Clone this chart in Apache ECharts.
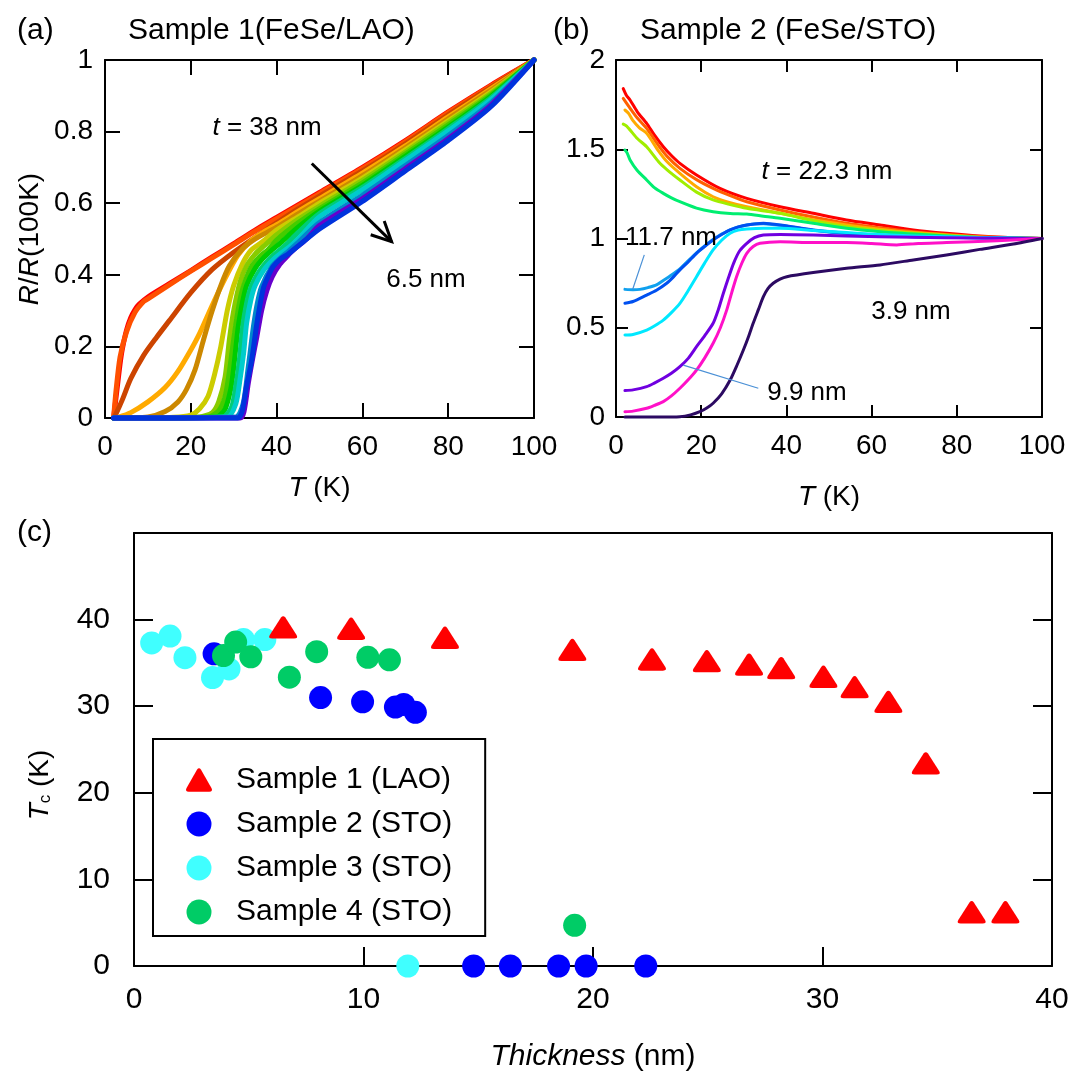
<!DOCTYPE html>
<html>
<head>
<meta charset="utf-8">
<script src="https://cdn.jsdelivr.net/npm/echarts/dist/echarts.min.js"></script>
<style>
  html, body { margin: 0; padding: 0; background: #fff; }
  #chart { width: 1072px; height: 1081px; }
</style>
</head>
<body>
<div id="chart"></div>
<script>
var FONT = "'Liberation Sans', Arial, Helvetica, sans-serif";

// ---- (a) Sample 1 (FeSe/LAO): R/R(100K) vs T, t = 38 nm ... 6.5 nm
var a1  = [[2,0],[2.5,0.05],[3,0.1],[3.5,0.15],[4,0.19],[5,0.245],[6,0.28],[7,0.303],[8,0.318],[10,0.338],[15,0.375],[20,0.412],[25,0.45],[30,0.487],[35,0.525],[40,0.56],[45,0.595],[50,0.63],[60,0.70],[70,0.775],[80,0.855],[90,0.93],[100,1]];
var a2  = [[2,0],[2.6,0.08],[3.5,0.17],[5,0.24],[7,0.295],[9,0.325],[10,0.333],[15,0.372],[20,0.41],[25,0.447],[30,0.484],[35,0.522],[40,0.557],[45,0.592],[50,0.627],[60,0.697],[70,0.772],[80,0.853],[90,0.928],[100,1]];
var a3  = [[2,0],[2.5,0.01],[4,0.05],[6,0.11],[9,0.175],[12,0.225],[15,0.272],[20,0.35],[25,0.415],[30,0.463],[35,0.505],[40,0.545],[45,0.584],[50,0.62],[60,0.69],[70,0.766],[80,0.847],[90,0.924],[100,1]];
var a4  = [[2,0],[3,0.002],[6,0.015],[10,0.045],[14,0.085],[17,0.13],[20,0.19],[22,0.235],[25,0.315],[28,0.39],[31,0.455],[34,0.495],[37,0.52],[40,0.54],[45,0.577],[50,0.613],[60,0.684],[70,0.76],[80,0.841],[90,0.92],[100,1]];
var a5  = [[2,0],[10,0.003],[14,0.018],[17,0.045],[19,0.08],[21,0.135],[23,0.22],[25,0.3],[27,0.37],[29,0.425],[32,0.472],[35,0.5],[38,0.52],[40,0.533],[45,0.57],[50,0.606],[60,0.677],[70,0.755],[80,0.836],[90,0.916],[100,1]];
var a6  = [[2,0],[16,0.002],[20,0.008],[22,0.025],[24,0.06],[25.5,0.12],[27,0.2],[28.5,0.3],[30,0.37],[32,0.43],[34,0.468],[37,0.495],[40,0.525],[45,0.562],[50,0.6],[60,0.67],[70,0.749],[80,0.83],[90,0.911],[100,1]];
var a7  = [[2,0],[22,0.003],[25,0.015],[26.5,0.045],[28,0.115],[29,0.22],[30,0.3],[31.5,0.38],[33,0.425],[35,0.458],[37,0.48],[40,0.512],[45,0.555],[50,0.592],[60,0.664],[70,0.743],[80,0.825],[90,0.907],[100,1]];
var a8  = [[2,0],[24,0.003],[26.5,0.02],[28,0.06],[29,0.13],[30,0.22],[31,0.3],[32,0.357],[34,0.42],[36,0.45],[38,0.47],[40,0.497],[45,0.545],[50,0.585],[60,0.657],[70,0.737],[80,0.819],[90,0.903],[100,1]];
var a9  = [[2,0],[26,0.003],[28,0.025],[29.3,0.08],[30,0.14],[31,0.25],[32,0.32],[33,0.37],[35,0.418],[37,0.448],[39,0.47],[41,0.49],[45,0.533],[50,0.578],[60,0.65],[70,0.731],[80,0.813],[90,0.899],[100,1]];
var a10 = [[2,0],[27.5,0.003],[29.5,0.03],[30.5,0.09],[31.3,0.16],[32.1,0.255],[33,0.32],[34,0.365],[36,0.41],[38,0.44],[40,0.462],[42,0.482],[45,0.518],[50,0.571],[60,0.644],[70,0.725],[80,0.808],[90,0.895],[100,1]];
var a11 = [[2,0],[28.5,0.003],[30.5,0.04],[31.5,0.11],[32.3,0.18],[33,0.264],[34,0.33],[35,0.37],[37,0.413],[39,0.44],[41,0.46],[43,0.478],[45,0.5],[50,0.562],[60,0.637],[70,0.719],[80,0.802],[90,0.89],[100,1]];
var a12 = [[2,0],[30.5,0.003],[32.2,0.04],[33.4,0.143],[34.6,0.255],[35.5,0.32],[36.5,0.367],[38.9,0.423],[41,0.448],[43,0.468],[45,0.49],[50,0.546],[60,0.622],[70,0.705],[80,0.789],[90,0.881],[100,1]];
var a13 = [[2,0],[31.5,0],[32.4,0.018],[33.4,0.097],[34.4,0.165],[35.4,0.227],[36.5,0.3],[37.7,0.355],[39,0.395],[40.8,0.43],[42.5,0.452],[44,0.47],[47,0.5],[50,0.538],[60,0.613],[70,0.697],[80,0.781],[90,0.875],[100,1]];
var a14 = [[2,0],[31,0],[32,0.02],[33,0.09],[34.2,0.162],[35.4,0.264],[36.9,0.362],[38,0.395],[39.2,0.423],[41,0.445],[42.7,0.458],[45,0.48],[50,0.528],[60,0.605],[70,0.69],[80,0.775],[90,0.87],[100,1]];
var curvesA = [a1, a2, a3, a4, a5, a6, a7, a8, a9, a10, a11, a12, a13, a14];
var colorsA = ['#ff0000','#ff5000','#cc4400','#ffaa00','#cc8800','#cccc00','#88cc00','#44cc00','#00cc00','#00cc77','#00cccc','#0088cc','#6600cc','#0033dd'];

// ---- (b) Sample 2 (FeSe/STO)
var b1  = [[1.7,1.84],[2.5,1.80],[3.3,1.776],[5,1.71],[7.2,1.645],[9,1.58],[11.1,1.514],[13,1.465],[15,1.421],[18.9,1.356],[24.4,1.281],[30.7,1.225],[38.5,1.178],[46.3,1.141],[54.1,1.104],[62,1.076],[69.8,1.048],[77.6,1.029],[85.4,1.014],[93.3,1.004],[100,1]];
var b2  = [[1.7,1.785],[3,1.74],[5,1.675],[7.2,1.617],[10,1.52],[12,1.46],[15,1.393],[18.9,1.33],[22.8,1.281],[26.8,1.24],[30.7,1.206],[38.5,1.16],[46.3,1.12],[54.1,1.085],[62,1.06],[69.8,1.038],[77.6,1.022],[85.4,1.01],[100,1]];
var b3  = [[2.1,1.72],[3,1.70],[4,1.66],[5.5,1.62],[7.2,1.589],[10,1.49],[12,1.43],[15,1.365],[18.9,1.29],[22.8,1.234],[26.8,1.2],[30.7,1.178],[38.5,1.141],[46.3,1.105],[54.1,1.076],[62,1.052],[69.8,1.033],[77.6,1.02],[85.4,1.008],[100,1]];
var b4  = [[1.7,1.641],[2.5,1.63],[3.3,1.608],[5,1.56],[7.2,1.514],[10,1.43],[12,1.385],[15,1.328],[18.9,1.26],[22.8,1.216],[26.8,1.19],[30.7,1.169],[38.5,1.141],[46.3,1.1],[54.1,1.066],[62,1.045],[69.8,1.029],[77.6,1.017],[85.4,1.006],[100,1]];
var b5  = [[2.1,1.496],[2.6,1.48],[3.3,1.44],[4.9,1.384],[7.2,1.328],[9,1.285],[11.1,1.253],[13,1.228],[15,1.206],[18.9,1.17],[22.8,1.15],[26.8,1.14],[30.7,1.137],[34.6,1.125],[38.5,1.113],[46.3,1.085],[54.1,1.057],[62,1.038],[69.8,1.025],[77.6,1.014],[85.4,1.006],[100,1]];
var b6  = [[2.1,0.715],[4,0.713],[5.6,0.715],[7.5,0.725],[9.5,0.74],[11.1,0.765],[12.7,0.79],[15,0.83],[18.9,0.92],[22.8,0.995],[26.8,1.048],[30.7,1.076],[34.6,1.083],[38.5,1.074],[46.3,1.046],[54.1,1.028],[69.8,1.01],[100,1]];
var b7  = [[2.1,0.637],[4,0.647],[7.2,0.683],[9.5,0.71],[11.9,0.749],[13.5,0.785],[15,0.824],[17,0.87],[18.9,0.917],[20.8,0.955],[22.8,0.992],[24.8,1.022],[26.8,1.048],[28.7,1.065],[30.7,1.076],[34.6,1.085],[38.5,1.076],[46.3,1.048],[54.1,1.029],[62,1.018],[69.8,1.01],[85,1.004],[100,1]];
var b8  = [[2.1,0.459],[4,0.462],[7.2,0.487],[9,0.51],[11.1,0.543],[13,0.585],[15,0.637],[17,0.71],[18.9,0.786],[20.8,0.862],[22.8,0.936],[24.8,0.99],[26.8,1.029],[28.7,1.047],[30.7,1.053],[34.6,1.057],[38.5,1.057],[46.3,1.045],[54.1,1.033],[62,1.022],[69.8,1.014],[85,1.005],[100,1]];
var b9  = [[2.1,0.148],[4,0.152],[7.2,0.17],[9,0.19],[11.1,0.217],[13,0.245],[15,0.282],[17,0.33],[18.9,0.394],[20.8,0.455],[22.8,0.525],[24,0.6],[25.2,0.693],[26.4,0.78],[27.6,0.861],[29,0.93],[30.7,0.973],[32.5,1.005],[34.6,1.02],[38.5,1.023],[46.3,1.02],[54.1,1.014],[69.8,1.007],[85,1.003],[100,1]];
var b10 = [[2.1,0.03],[4,0.033],[7.2,0.049],[9,0.065],[11.1,0.086],[13,0.118],[15,0.161],[17,0.21],[18.9,0.263],[20.8,0.33],[22.8,0.413],[24.5,0.5],[26,0.6],[27.2,0.7],[28.3,0.786],[29.5,0.86],[30.7,0.917],[32.2,0.955],[33.8,0.973],[38.5,0.982],[46.3,0.977],[54.1,0.977],[60,0.972],[65.9,0.964],[71,0.972],[77.6,0.977],[89.4,0.988],[100,1]];
var b11 = [[2.1,0],[10,0],[15,0.002],[17.5,0.012],[19.7,0.03],[21.3,0.05],[22.8,0.077],[24.8,0.13],[26.8,0.207],[28.4,0.29],[29.9,0.375],[31.1,0.45],[32.2,0.525],[33.4,0.6],[34.6,0.674],[35.7,0.72],[36.9,0.749],[38.5,0.772],[40.1,0.786],[46.3,0.809],[54.1,0.833],[62,0.852],[69.8,0.88],[77.6,0.908],[85.4,0.939],[93.3,0.969],[100,1]];
var curvesB = [b1, b2, b3, b4, b5, b6, b7, b8, b9, b10, b11];
var colorsB = ['#ff0000','#ff6000','#ffaa00','#a0ee00','#00ee70','#10a0ee','#0050f0','#00e8ff','#7000e0','#ff10c8','#2c0a62'];

// ---- (c) Tc vs thickness
var lao1 = [[6.5,39.1],[9.46,38.95],[13.55,37.9],[19.1,36.5],[22.57,35.4],[24.96,35.2],[26.8,34.8],[28.2,34.4],[30.04,33.4],[31.4,32.2],[32.87,30.5],[34.5,23.4],[36.5,6.2],[37.97,6.2]];
var sto2 = [[3.49,36.05],[8.13,31.0],[9.96,30.5],[11.39,29.9],[11.75,30.2],[12.26,29.3],[14.8,0],[16.4,0],[18.5,0],[19.7,0],[22.3,0]];
var sto3 = [[0.77,37.3],[1.57,38.1],[2.22,35.6],[3.42,33.3],[4.14,34.3],[4.77,37.7],[5.7,37.7],[11.93,0]];
var sto4 = [[3.9,35.85],[4.43,37.4],[5.09,35.7],[6.77,33.35],[7.96,36.3],[10.19,35.65],[11.13,35.35],[19.2,4.7]];
var sampleNames = ['Sample 1 (LAO)', 'Sample 2 (STO)', 'Sample 3 (STO)', 'Sample 4 (STO)'];

var TRIANGLE = 'path://M11,1.6 Q13,-1.3 15,1.6 L25.2,19.4 Q27,23 23,23 L3,23 Q-1,23 0.8,19.4 Z';

var chart = echarts.init(document.getElementById('chart'));

function frame(len) {
  return {
    axisLine: { show: true, onZero: false, lineStyle: { color: '#000', width: 2 } },
    axisTick: { show: true, inside: true, length: len, lineStyle: { color: '#000', width: 2 } },
    splitLine: { show: false }
  };
}
function lbl(size, margin) {
  return { color: '#000', fontSize: size, fontFamily: FONT, margin: margin };
}
function nameStyle(size) {
  return { color: '#000', fontSize: size, fontFamily: FONT,
    rich: { i: { fontStyle: 'italic', fontSize: size, fontFamily: FONT, color: '#000' } } };
}

var series = [];
curvesA.forEach(function (d, i) {
  series.push({ type: 'line', xAxisIndex: 0, yAxisIndex: 0, data: d, symbol: 'none', smooth: 0.25,
    clip: false, lineStyle: { width: 5, color: colorsA[i], cap: 'round', join: 'round' }, silent: true });
});
curvesB.forEach(function (d, i) {
  series.push({ type: 'line', xAxisIndex: 2, yAxisIndex: 2, data: d, symbol: 'none', smooth: 0.25,
    clip: false, lineStyle: { width: 3, color: colorsB[i], cap: 'round', join: 'round' }, silent: true });
});
series.push({ name: sampleNames[2], type: 'scatter', xAxisIndex: 4, yAxisIndex: 4, data: sto3,
  symbol: 'circle', symbolSize: 23, itemStyle: { color: '#40ffff', opacity: 1 }, clip: false, z: 3 });
series.push({ name: sampleNames[1], type: 'scatter', xAxisIndex: 4, yAxisIndex: 4, data: sto2,
  symbol: 'circle', symbolSize: 23, itemStyle: { color: '#0000ff', opacity: 1 }, clip: false, z: 4 });
series.push({ name: sampleNames[3], type: 'scatter', xAxisIndex: 4, yAxisIndex: 4, data: sto4,
  symbol: 'circle', symbolSize: 23, itemStyle: { color: '#00cc66', opacity: 1 }, clip: false, z: 5 });
series.push({ name: sampleNames[0], type: 'scatter', xAxisIndex: 4, yAxisIndex: 4, data: lao1,
  symbol: TRIANGLE, symbolSize: [28, 25], symbolKeepAspect: true, itemStyle: { color: '#ff0000', opacity: 1 }, clip: false, z: 6 });

var option = {
  animation: false,
  backgroundColor: '#fff',
  grid: [
    { left: 105, top: 60, width: 429, height: 358 },
    { left: 616, top: 60, width: 426, height: 357 },
    { left: 134, top: 533, width: 918, height: 433 }
  ],
  xAxis: [
    Object.assign({ gridIndex: 0, type: 'value', position: 'bottom', min: 0, max: 100, interval: 20,
      axisLabel: lbl(28, 15), name: '{i|T} (K)', nameLocation: 'middle', nameGap: 56, nameTextStyle: nameStyle(28) }, frame(15)),
    Object.assign({ gridIndex: 0, type: 'value', position: 'top', min: 0, max: 100, interval: 20,
      axisLabel: { show: false } }, frame(15)),
    Object.assign({ gridIndex: 1, type: 'value', position: 'bottom', min: 0, max: 100, interval: 20,
      axisLabel: lbl(28, 15), name: '{i|T} (K)', nameLocation: 'middle', nameGap: 66, nameTextStyle: nameStyle(28) }, frame(12)),
    Object.assign({ gridIndex: 1, type: 'value', position: 'top', min: 0, max: 100, interval: 20,
      axisLabel: { show: false } }, frame(12)),
    Object.assign({ gridIndex: 2, type: 'value', position: 'bottom', min: 0, max: 40, interval: 10,
      axisLabel: lbl(30, 19), name: '{i|Thickness} (nm)', nameLocation: 'middle', nameGap: 76, nameTextStyle: nameStyle(30) }, frame(19)),
    Object.assign({ gridIndex: 2, type: 'value', position: 'top', min: 0, max: 40, interval: 10,
      axisLabel: { show: false } }, frame(19), { axisTick: { show: false } })
  ],
  yAxis: [
    Object.assign({ gridIndex: 0, type: 'value', position: 'left', min: 0, max: 1, interval: 0.2,
      axisLabel: lbl(28, 12), name: '{i|R}/{i|R}(100K)', nameLocation: 'middle', nameGap: 61, nameRotate: 90,
      nameTextStyle: nameStyle(28) }, frame(15)),
    Object.assign({ gridIndex: 0, type: 'value', position: 'right', min: 0, max: 1, interval: 0.2,
      axisLabel: { show: false } }, frame(15)),
    Object.assign({ gridIndex: 1, type: 'value', position: 'left', min: 0, max: 2, interval: 0.5,
      axisLabel: lbl(28, 11) }, frame(12)),
    Object.assign({ gridIndex: 1, type: 'value', position: 'right', min: 0, max: 2, interval: 0.5,
      axisLabel: { show: false } }, frame(12)),
    Object.assign({ gridIndex: 2, type: 'value', position: 'left', min: 0, max: 50, interval: 10,
      axisLabel: Object.assign(lbl(30, 24), { formatter: function (v) { return v === 50 ? '' : v; } }) }, frame(19)),
    Object.assign({ gridIndex: 2, type: 'value', position: 'right', min: 0, max: 50, interval: 10,
      axisLabel: { show: false } }, frame(19))
  ],
  legend: {
    data: sampleNames,
    orient: 'vertical',
    left: 153, top: 739,
    padding: [26, 33, 9, 33],
    itemWidth: 26, itemHeight: 25, itemGap: 14,
    symbolKeepAspect: true,
    borderColor: '#000', borderWidth: 2, backgroundColor: '#fff',
    selectedMode: false,
    textStyle: { color: '#000', fontSize: 30, fontFamily: FONT, padding: [0, 0, 0, 19] }
  },
  series: series
};
chart.setOption(option);

// annotations: texts in page pixels, arrow and leader lines from data coordinates
function txt(x, y, text, size, align, extra) {
  var rich = {
    i: { fontStyle: 'italic', fontSize: size, fontFamily: FONT, fill: '#000' },
    n: { fontSize: size, fontFamily: FONT, fill: '#000' },
    s: { fontSize: Math.round(size * 0.62), fontFamily: FONT, fill: '#000', verticalAlign: 'bottom', lineHeight: Math.round(size * 0.62) }
  };
  return Object.assign({ type: 'text', x: x, y: y, silent: true, z: 100,
    style: { text: text, fill: '#000', fontSize: size, fontFamily: FONT,
      align: align, textAlign: align, verticalAlign: 'middle', textVerticalAlign: 'middle', rich: rich } }, extra || {});
}
function px(seriesIndex, pt) { return chart.convertToPixel({ seriesIndex: seriesIndex }, pt); }

var tail = px(0, [48.2, 0.711]), tip = px(0, [66.8, 0.4925]);
var ux = tip[0] - tail[0], uy = tip[1] - tail[1], ul = Math.sqrt(ux * ux + uy * uy);
ux /= ul; uy /= ul;
function arm(sign) {
  var ang = sign * 26 * Math.PI / 180, c = Math.cos(ang), s = Math.sin(ang);
  var bx = -ux, by = -uy;
  return [tip[0] + 22 * (bx * c - by * s), tip[1] + 22 * (bx * s + by * c)];
}
var lead1a = px(curvesA.length, [6.64, 0.908]), lead1b = px(curvesA.length, [3.92, 0.716]);
var lead2a = px(curvesA.length, [15.8, 0.291]), lead2b = px(curvesA.length, [33.4, 0.161]);

chart.setOption({
  graphic: { elements: [
    txt(17, 31, '(a)', 30, 'left'),
    txt(128, 31, 'Sample 1(FeSe/LAO)', 30, 'left'),
    txt(553, 31, '(b)', 30, 'left'),
    txt(640, 31, 'Sample 2 (FeSe/STO)', 30, 'left'),
    txt(17, 533, '(c)', 30, 'left'),
    txt(267, 128, '{i|t}{n| = 38 nm}', 26, 'center'),
    txt(426, 280, '6.5 nm', 26, 'center'),
    txt(827, 172, '{i|t}{n| = 22.3 nm}', 26, 'center'),
    txt(671, 238, '11.7 nm', 26, 'center'),
    txt(911, 312, '3.9 nm', 26, 'center'),
    txt(807, 393, '9.9 nm', 26, 'center'),
    txt(40, 785, '{i|T}{s|c}{n| (K)}', 28, 'center', { rotation: Math.PI / 2 }),
    { type: 'line', silent: true, z: 100, shape: { x1: tail[0], y1: tail[1], x2: tip[0], y2: tip[1] },
      style: { stroke: '#000', lineWidth: 3 } },
    { type: 'polyline', silent: true, z: 100, shape: { points: [arm(1), tip, arm(-1)] },
      style: { stroke: '#000', lineWidth: 3, fill: null, lineJoin: 'miter' } },
    { type: 'line', silent: true, z: 100, shape: { x1: lead1a[0], y1: lead1a[1], x2: lead1b[0], y2: lead1b[1] },
      style: { stroke: '#4a90d6', lineWidth: 1.2 } },
    { type: 'line', silent: true, z: 100, shape: { x1: lead2a[0], y1: lead2a[1], x2: lead2b[0], y2: lead2b[1] },
      style: { stroke: '#4a90d6', lineWidth: 1.2 } }
  ] }
});

window.onresize = function () { chart.resize(); };
</script>
</body>
</html>
